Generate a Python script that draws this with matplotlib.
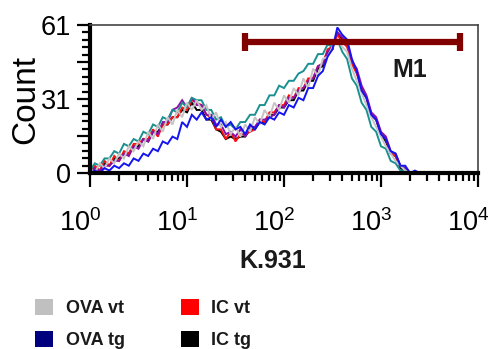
import numpy as np
import matplotlib
matplotlib.use("Agg")
import matplotlib.pyplot as plt
from matplotlib.patches import Patch
from matplotlib.ticker import FixedLocator, NullFormatter, LogLocator
from matplotlib.transforms import ScaledTranslation

plt.rcParams["font.family"] = ["Liberation Sans", "DejaVu Sans"]
plt.rcParams["mathtext.fontset"] = "custom"
plt.rcParams["mathtext.rm"] = "Liberation Sans"
plt.rcParams["mathtext.default"] = "regular"

# Histogram channels: log10 of K.931 intensity, 0.05-decade bins
log_bins = np.arange(70) * 0.05

ova_vt = [2, 0, 4, 2, 6, 4, 8, 6, 11, 9,
          13, 11, 17, 14, 20, 17, 23, 20, 26, 23,
          29, 26, 30, 26, 28, 22, 25, 19, 21, 16,
          19, 15, 20, 17, 23, 20, 26, 23, 29, 26,
          32, 29, 35, 32, 39, 35, 43, 40, 47, 48,
          52, 55, 52, 50, 43, 38, 33, 28, 23, 19,
          15, 11, 8, 5, 3, 1, 0, 0, 0, 0]
ova_tg = [0, 1, 0, 2, 1, 3, 2, 4, 3, 6,
          5, 8, 7, 10, 9, 13, 12, 15, 14, 21,
          19, 24, 22, 25, 22, 23, 19, 22, 19, 21,
          18, 19, 16, 20, 18, 21, 20, 23, 22, 25,
          24, 28, 27, 31, 30, 35, 35, 40, 42, 48,
          51, 60, 57, 55, 47, 42, 34, 31, 24, 22,
          16, 14, 9, 8, 3, 3, 0, 1, 0, 0]
ic_vt = [1, 3, 1, 5, 3, 7, 5, 9, 8, 12,
         12, 14, 14, 18, 15, 20, 20, 23, 23, 27,
         26, 30, 29, 28, 24, 23, 18, 18, 14, 17,
         13, 16, 16, 17, 18, 22, 21, 25, 25, 28,
         28, 32, 31, 35, 35, 39, 39, 44, 45, 51,
         52, 57, 54, 52, 45, 41, 35, 31, 24, 22,
         16, 14, 8, 7, 3, 2, 0, 0, 0, 0]
ic_tg = [0, 2, 1, 4, 3, 6, 6, 8, 8, 11,
         11, 14, 13, 17, 17, 20, 20, 23, 23, 26,
         25, 29, 26, 26, 22, 22, 18, 17, 14, 15,
         14, 15, 15, 18, 18, 21, 21, 24, 24, 27,
         27, 30, 30, 34, 34, 38, 38, 43, 44, 50,
         51, 58, 55, 53, 45, 42, 34, 31, 24, 22,
         16, 13, 8, 7, 2, 1, 0, 0, 0, 0]
sample_5 = [0, 2, 1, 3, 3, 5, 5, 8, 7, 11,
            10, 14, 13, 17, 16, 21, 21, 26, 27, 30,
            27, 31, 28, 28, 24, 24, 20, 20, 16, 17,
            15, 18, 15, 19, 19, 22, 22, 23, 24, 28,
            27, 31, 31, 34, 35, 38, 39, 44, 45, 50,
            52, 58, 56, 54, 46, 43, 36, 32, 25, 23,
            17, 15, 9, 8, 3, 2, 0, 0, 0, 0]
sample_6 = [1, 4, 3, 6, 6, 9, 8, 12, 11, 14,
            13, 17, 16, 20, 19, 23, 22, 26, 25, 29,
            27, 31, 30, 30, 26, 26, 22, 23, 19, 20,
            18, 21, 21, 24, 24, 28, 28, 32, 32, 36,
            35, 38, 38, 41, 42, 45, 45, 49, 49, 53,
            52, 55, 50, 47, 39, 36, 29, 26, 19, 17,
            11, 10, 5, 4, 1, 1, 0, 0, 0, 0]

series = [
    (ic_tg, "#000000"),
    (ic_vt, "#ff1010"),
    (sample_5, "#8a10a8"),
    (sample_6, "#1a9090"),
    (ova_vt, "#c4c4c4"),
    (ova_tg, "#1414f0"),
]

legend_labels = ["OVA vt", "OVA tg", "IC vt", "IC tg"]
legend_colors = ["#c0c0c0", "#00007f", "#ff0000", "#000000"]

gate_name = "M1"
gate_range = (40, 6500)
gate_level = 54

y_ticks = [0, 15.25, 30.5, 45.75, 61]
y_tick_labels = ["0", "", "31", "", "61"]
y_minor_step = 3.05

fig = plt.figure(figsize=(4.89, 3.49), dpi=100)
ax = fig.add_axes([90 / 489, 1 - 173 / 349, (478 - 90) / 489, (173 - 25) / 349])

x_vals = 10 ** log_bins
for counts, color in series:
    ax.plot(x_vals, counts, color=color, lw=1.4, solid_joinstyle="miter")

# Gate marker
ax.plot(gate_range, [gate_level, gate_level], color="#800000", lw=4.5,
        solid_capstyle="butt")
ax.plot(gate_range, [gate_level, gate_level], ls="none", marker="|",
        ms=13, mew=4.5, color="#800000")
ax.text(10 ** 3.3, 42.5, gate_name, fontsize=18, fontweight="bold",
        color="#1a1a1a", ha="center", va="center")

ax.set_xscale("log")
ax.set_xlim(1, 1e4)
ax.set_ylim(0, 61)

ax.xaxis.set_major_locator(LogLocator(base=10, numticks=10))
ax.xaxis.set_minor_locator(LogLocator(base=10, subs=np.arange(2, 10), numticks=10))
ax.xaxis.set_minor_formatter(NullFormatter())

ax.yaxis.set_major_locator(FixedLocator(y_ticks))
ax.set_yticklabels(y_tick_labels)
ax.yaxis.set_minor_locator(FixedLocator([i * y_minor_step for i in range(21)]))

ax.tick_params(axis="both", which="major", direction="out", width=1.6,
               labelsize=19.5, colors="black")
ax.tick_params(axis="x", which="major", length=10, pad=16)
ax.tick_params(axis="y", which="major", length=9.5, pad=4)
ax.tick_params(axis="both", which="minor", direction="out", width=1.6, length=6)

# Exponent sits just right of the tick: shift decade labels left
shift = ScaledTranslation(-10 / 100, 0, fig.dpi_scale_trans)
for lab in ax.get_xticklabels():
    lab.set_transform(lab.get_transform() + shift)

for side in ("left", "bottom"):
    ax.spines[side].set_linewidth(3)
    ax.spines[side].set_color("black")
for side in ("top", "right"):
    ax.spines[side].set_linewidth(1.2)
    ax.spines[side].set_color("#444444")

fig.text(26 / 489, 1 - 99 / 349, "Count", rotation=90, fontsize=24,
         ha="center", va="center")
fig.text(273 / 489, 1 - 261 / 349, "K.931", fontsize=18, fontweight="bold",
         ha="center", va="center", color="#1a1a1a")

handles = [Patch(facecolor=c, edgecolor="none") for c in legend_colors]
fig.legend(handles, legend_labels, ncol=2, loc="upper left",
           bbox_to_anchor=(35 / 489, 1 - 299 / 349), frameon=False,
           prop={"weight": "bold", "size": 13}, handlelength=1.0,
           handleheight=1.0, handletextpad=0.7, columnspacing=3.1,
           labelspacing=0.75, borderpad=0, borderaxespad=0,
           labelcolor="#1a1a1a")

fig.savefig("out.png", dpi=100)
